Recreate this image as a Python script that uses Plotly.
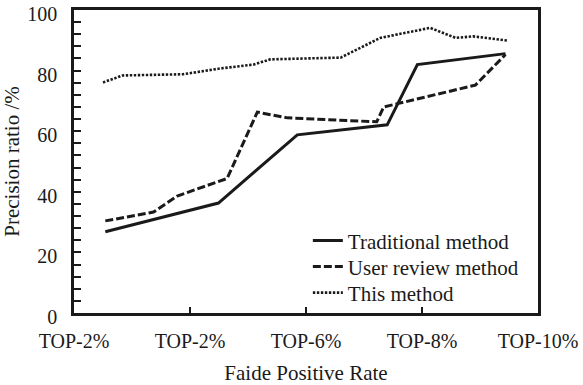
import plotly.graph_objects as go

tick_labels = ["TOP-2%", "TOP-2%", "TOP-6%", "TOP-8%", "TOP-10%"]

trad_x = [0.27, 1.245, 1.925, 2.70, 2.96, 3.72]
trad_y = [26.8, 36.3, 58.8, 62.1, 82.0, 85.6]

user_x = [0.27, 0.685, 0.89, 1.32, 1.58, 1.84, 2.61, 2.67, 3.46, 3.72]
user_y = [30.4, 33.3, 38.6, 44.4, 66.3, 64.4, 63.1, 68.0, 75.2, 85.3]

this_x = [0.25, 0.42, 0.94, 1.26, 1.55, 1.69, 2.30, 2.64, 3.07, 3.29, 3.44, 3.74]
this_y = [76.1, 78.4, 78.8, 80.7, 82.0, 83.7, 84.3, 90.8, 94.1, 90.8, 91.3, 89.9]

FONT = "Liberation Serif, Times New Roman, serif"
INK = "#1a1a1a"

fig = go.Figure()
fig.add_trace(go.Scatter(x=trad_x, y=trad_y, mode="lines", name="Traditional method",
                         legend="legend",
                         line=dict(color=INK, width=3, dash="solid")))
fig.add_trace(go.Scatter(x=user_x, y=user_y, mode="lines", name="User review method",
                         legend="legend2",
                         line=dict(color=INK, width=3, dash="8px,3px")))
fig.add_trace(go.Scatter(x=this_x, y=this_y, mode="lines", name="This method",
                         legend="legend3",
                         line=dict(color=INK, width=2.6, dash="2.4px,1.6px")))

leg_common = dict(x=0.504, xanchor="left", yanchor="middle",
                  bgcolor="rgba(0,0,0,0)", font=dict(size=21, family=FONT, color=INK),
                  borderwidth=0)

fig.update_layout(
    width=583, height=385,
    margin=dict(l=74, r=45, t=10, b=72, autoexpand=False),
    paper_bgcolor="white", plot_bgcolor="white",
    font=dict(family=FONT, size=20, color=INK),
    showlegend=True,
    legend=dict(y=0.238, **leg_common),
    legend2=dict(y=0.152, **leg_common),
    legend3=dict(y=0.066, **leg_common),
)
fig.update_xaxes(
    range=[0, 4], tickmode="array", tickvals=[0, 1, 2, 3, 4], ticktext=tick_labels,
    showgrid=False, zeroline=False, showline=True, linecolor=INK, linewidth=2.5,
    mirror=True, ticks="inside", ticklen=6, tickwidth=2, tickcolor=INK,
    ticklabelstandoff=8, ticklabeloverflow="allow", automargin=False,
    title=dict(text="Faide Positive Rate", standoff=16, font=dict(size=21, family=FONT)),
)
fig.update_yaxes(
    range=[0, 100], tickmode="linear", tick0=0, dtick=20,
    showgrid=False, zeroline=False, showline=True, linecolor=INK, linewidth=2.5,
    mirror=True, ticks="inside", ticklen=7, tickwidth=2, tickcolor=INK,
    minor=dict(dtick=4, ticks="inside", ticklen=7, tickwidth=2, tickcolor=INK, showgrid=False),
    ticklabelstandoff=10, ticklabelshift=4, ticklabeloverflow="allow", automargin=False,
    title=dict(text="Precision ratio /%", standoff=13, font=dict(size=21, family=FONT)),
)

fig.write_html("out.html")
